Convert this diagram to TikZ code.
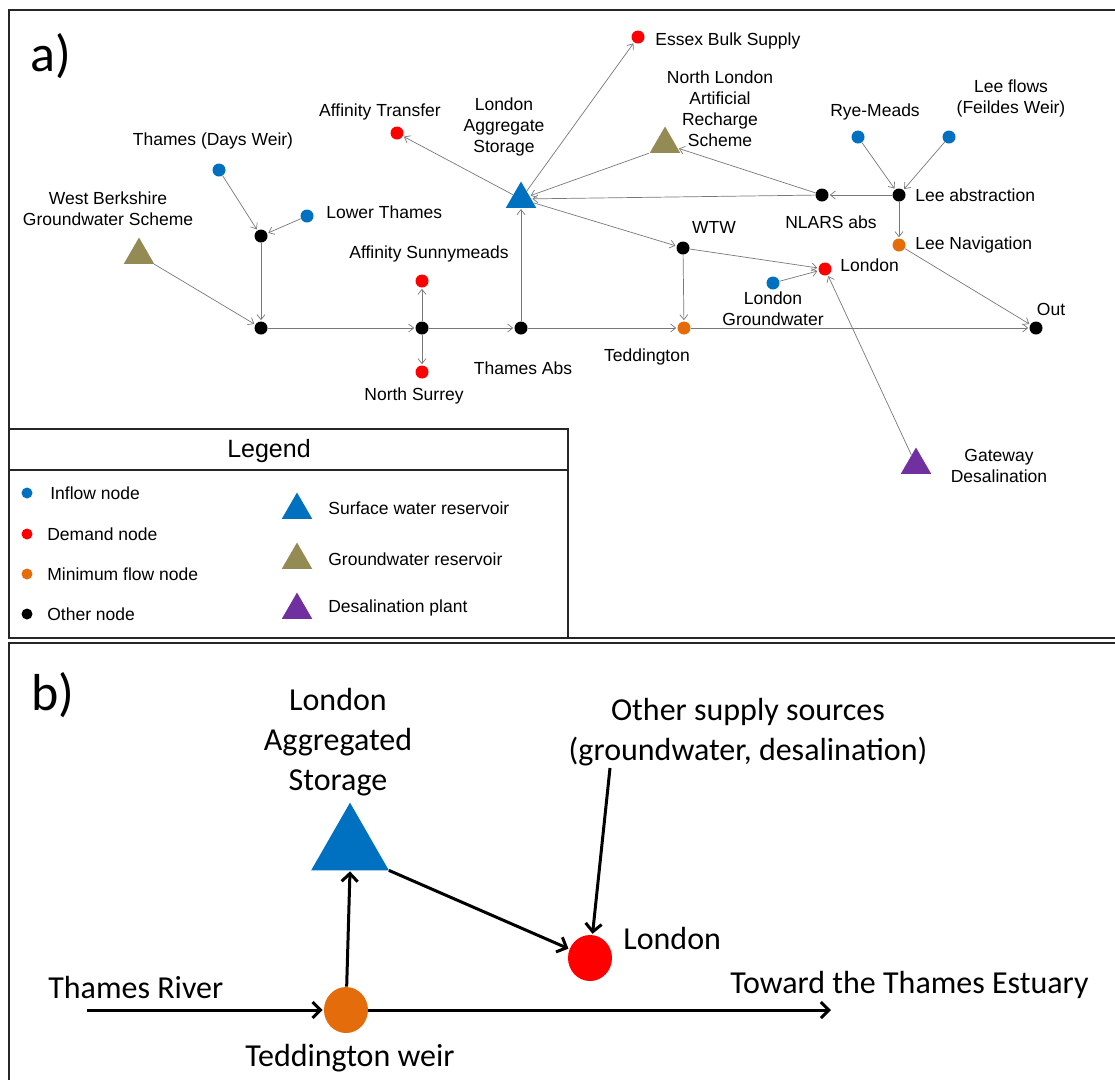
\documentclass[tikz,border=0pt]{standalone}
\usepackage{fontspec}
\setmainfont{Liberation Sans}
\newfontfamily\calibrifont{Carlito}
\usetikzlibrary{shapes.geometric,arrows.meta}

\begin{document}
\begin{tikzpicture}[x=1pt,y=-1pt,->,>={Straight Barb[length=5pt,width=8pt]},shorten >=1pt,
  line width=0.7pt,
  dot/.style={circle,inner sep=0pt,minimum size=13pt},
  inflow node/.style={dot,fill=inflowblue},
  demand node/.style={dot,fill=demandred},
  minflow node/.style={dot,fill=minorange},
  other node/.style={dot,fill=black},
  tri node/.style={regular polygon,regular polygon sides=3,inner sep=0pt,minimum size=35pt},
  label node/.style={font=\fontsize{17.5}{21}\selectfont,align=center,inner sep=0pt},
  big label/.style={font=\calibrifont\fontsize{32}{40}\selectfont,align=center,inner sep=0pt},
  frame/.style={-,draw=black!85,line width=2pt}]
  \definecolor{inflowblue}{RGB}{0,112,192}
  \definecolor{demandred}{RGB}{255,0,0}
  \definecolor{minorange}{RGB}{228,108,10}
  \definecolor{gwolive}{RGB}{148,138,84}
  \definecolor{desalpurple}{RGB}{112,48,160}
  \definecolor{flowgray}{RGB}{120,120,120}

  \useasboundingbox (0,0) rectangle (1115,1080);

  % frames
  \draw[frame] (1116,10) -- (9,10) -- (9,638) -- (1116,638);
  \draw[frame] (1116,643) -- (9,643) -- (9,1081);
  \draw[frame] (9,429) rectangle (568,638);
  \draw[frame] (9,470) -- (568,470);

  \node[font=\calibrifont\fontsize{52}{52}\selectfont] (panela) at (51,56) {a)};
  \node[font=\calibrifont\fontsize{52}{52}\selectfont] (panelb) at (53,695) {b)};

  % a) network
  \node[inflow node] (tdw) at (219,170) {};
  \node[inflow node] (lowthames) at (307,216) {};
  \node[tri node,fill=gwolive] (wberks) at (139,255) {};
  \node[other node] (jdays) at (261,236) {};
  \node[other node] (jthames) at (261,328) {};
  \node[other node] (jaff) at (422,328) {};
  \node[demand node] (affsunny) at (422,281) {};
  \node[demand node] (nsurrey) at (422,372) {};
  \node[other node] (thabs) at (521,328) {};
  \node[tri node,fill=inflowblue] (las) at (521,199) {};
  \node[demand node] (afftrans) at (397,133) {};
  \node[demand node] (essex) at (638,37) {};
  \node[tri node,fill=gwolive] (nlars) at (665,144) {};
  \node[other node] (nlarsabs) at (822,195) {};
  \node[inflow node] (ryemeads) at (858,137) {};
  \node[inflow node] (leeflows) at (949,137) {};
  \node[other node] (leeabs) at (899,195) {};
  \node[minflow node] (leenav) at (899,245) {};
  \node[other node] (wtw) at (683,248) {};
  \node[demand node] (london) at (825,269) {};
  \node[inflow node] (londongw) at (773,283) {};
  \node[minflow node] (tedd) at (684,328) {};
  \node[other node] (out) at (1036,328) {};
  \node[tri node,fill=desalpurple] (gateway) at (916,465) {};

  \node[label node] (tdw-l) at (213,141) {Thames (Days Weir)};
  \node[label node,anchor=west] (lowthames-l) at (326,212) {Lower Thames};
  \node[label node] (wberks-l) at (108,209) {West Berkshire\\Groundwater Scheme};
  \node[label node] (affsunny-l) at (429,254) {Affinity Sunnymeads};
  \node[label node] (nsurrey-l) at (414,396) {North Surrey};
  \node[label node] (thabs-l) at (523,368) {Thames Abs};
  \node[label node] (afftrans-l) at (380,112) {Affinity Transfer};
  \node[label node] (las-l) at (504,127) {London\\Aggregate\\Storage};
  \node[label node,anchor=west] (essex-l) at (655,41) {Essex Bulk Supply};
  \node[label node] (nlars-l) at (720,109) {North London\\Artificial\\Recharge\\Scheme};
  \node[label node] (ryemeads-l) at (875,112) {Rye-Meads};
  \node[label node] (leeflows-l) at (1011,98) {Lee flows\\(Feildes Weir)};
  \node[label node,anchor=west] (leeabs-l) at (915,195) {Lee abstraction};
  \node[label node] (nlarsabs-l) at (831,222) {NLARS abs};
  \node[label node,anchor=west] (leenav-l) at (915,245) {Lee Navigation};
  \node[label node] (wtw-l) at (714,227) {WTW};
  \node[label node,anchor=west] (london-l) at (840,265) {London};
  \node[label node] (londongw-l) at (773,309) {London\\Groundwater};
  \node[label node] (tedd-l) at (647,357) {Teddington};
  \node[label node] (out-l) at (1051,309) {Out};
  \node[label node] (gateway-l) at (999,466) {Gateway\\Desalination};

  \path[color=flowgray]
    (tdw) edge (jdays)
    (lowthames) edge (jdays)
    (jdays) edge (jthames)
    (wberks) edge (jthames)
    (jthames) edge (jaff)
    (jaff) edge (affsunny)
           edge (nsurrey)
           edge (thabs)
    (thabs) edge (las)
            edge (tedd)
    (las) edge (afftrans)
          edge (essex)
          edge (wtw)
    (wtw) edge (tedd)
          edge (london)
    (londongw) edge (london)
    (gateway) edge (london)
    (tedd) edge (out)
    (leenav) edge (out)
    (ryemeads) edge (leeabs)
    (leeflows) edge (leeabs)
    (leeabs) edge (leenav)
             edge (nlarsabs)
    (nlarsabs) edge (nlars)
               edge (las)
    (nlars.corner 2) edge (las);

  % legend
  \node[label node,font=\fontsize{25}{30}\selectfont] (legend) at (269,451) {Legend};
  \node[dot,fill=inflowblue,minimum size=11pt] (leg-inflow) at (27,493) {};
  \node[dot,fill=demandred,minimum size=11pt] (leg-demand) at (27,534) {};
  \node[dot,fill=minorange,minimum size=11pt] (leg-minflow) at (27,574) {};
  \node[dot,fill=black,minimum size=11pt] (leg-other) at (27,614) {};
  \node[label node,anchor=west] (leg-inflow-l) at (50,493) {Inflow node};
  \node[label node,anchor=west] (leg-demand-l) at (47,534) {Demand node};
  \node[label node,anchor=west] (leg-minflow-l) at (47,574) {Minimum flow node};
  \node[label node,anchor=west] (leg-other-l) at (47,614) {Other node};
  \node[tri node,fill=inflowblue] (leg-surface) at (297,510) {};
  \node[tri node,fill=gwolive] (leg-ground) at (297,560) {};
  \node[tri node,fill=desalpurple] (leg-desal) at (297,610) {};
  \node[label node,anchor=west] (leg-surface-l) at (328,508) {Surface water reservoir};
  \node[label node,anchor=west] (leg-ground-l) at (328,559) {Groundwater reservoir};
  \node[label node,anchor=west] (leg-desal-l) at (328,608) {Desalination plant};

  % b) simplified
  \node[inner sep=0pt,minimum width=77pt,minimum height=67pt] (agg) at (350,836.5) {};
  \fill[inflowblue] (agg.south west) -- (agg.north) -- (agg.south east) -- cycle;
  \node[ellipse,fill=minorange,inner sep=0pt,minimum width=44pt,minimum height=46pt] (weir) at (346,1010) {};
  \node[ellipse,fill=demandred,inner sep=0pt,minimum width=44pt,minimum height=46pt] (bigldn) at (590,958) {};
  \coordinate (riverin) at (87,1010);
  \coordinate (estuary) at (832,1010);
  \coordinate (othersrc) at (610,768);

  \node[big label] (agg-l) at (338,742) {London\\Aggregated\\Storage};
  \node[big label] (other-l) at (748,732) {Other supply sources\\(groundwater, desalination)};
  \node[big label,anchor=west] (bigldn-l) at (623,938) {London};
  \node[big label,anchor=west] (river-l) at (48,987) {Thames River};
  \node[big label,anchor=west] (estuary-l) at (730,985) {Toward the Thames Estuary};
  \node[big label] (weir-l) at (350,1058) {Teddington weir};

  \path[color=black,line width=3pt,>={Straight Barb[length=8pt,width=16pt]}]
    (riverin) edge (weir)
    (weir) edge (estuary)
           edge (agg.south)
    (agg.south east) edge (bigldn)
    (othersrc) edge (bigldn);
\end{tikzpicture}
\end{document}
